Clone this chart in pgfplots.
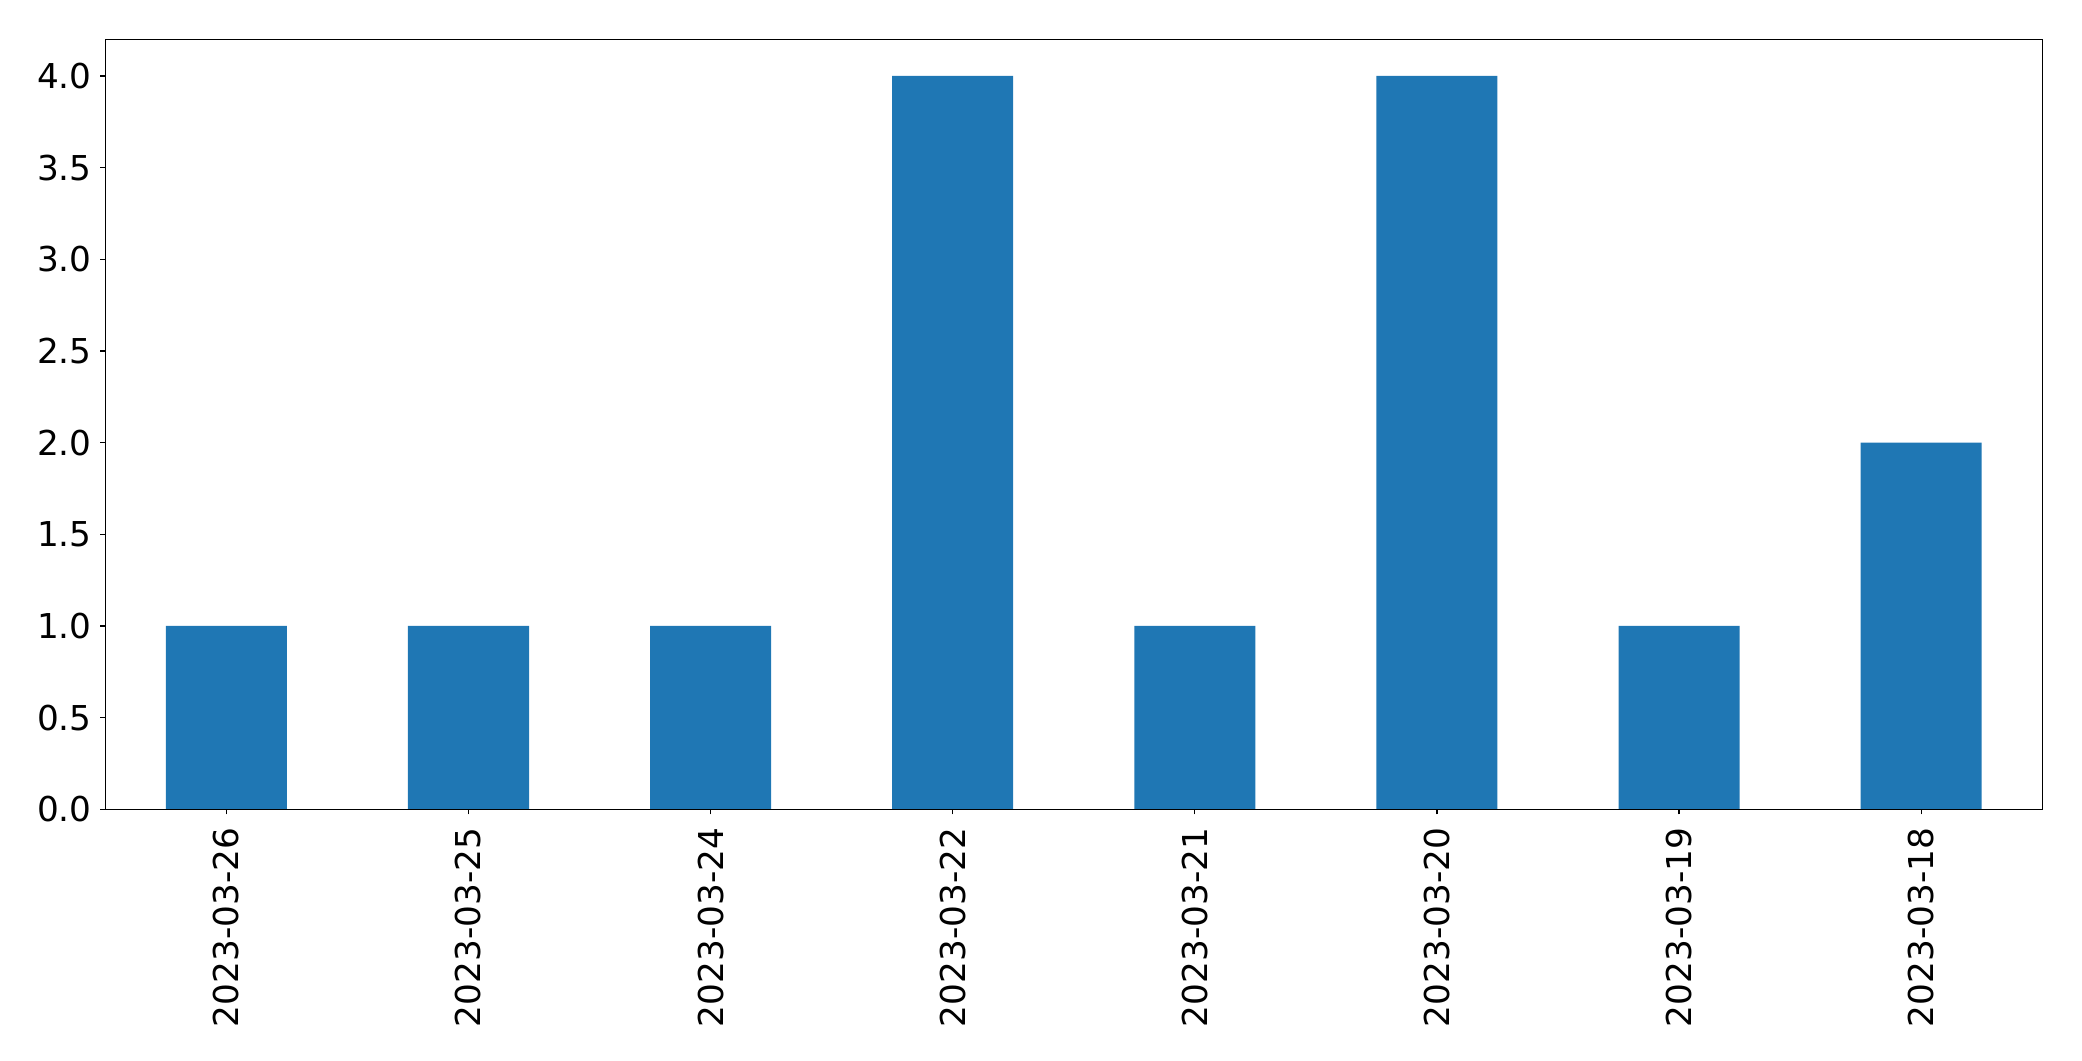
\documentclass[border=0pt]{standalone}
\usepackage{fontspec}
\setmainfont{DejaVu Sans}
\usepackage{pgfplots}
\pgfplotsset{compat=1.18}
\definecolor{mplblue}{HTML}{1F77B4}
\begin{document}
\fontsize{9.75}{11.7}\selectfont
\begin{tikzpicture}
\begin{axis}[
  scale only axis, width=19.37cm, height=7.70cm,
  xmin=-0.5, xmax=7.5, ymin=0, ymax=4.2,
  xtick={0,1,2,3,4,5,6,7},
  xticklabels={2023-03-26,2023-03-25,2023-03-24,2023-03-22,2023-03-21,2023-03-20,2023-03-19,2023-03-18},
  ytick={0,0.5,1,1.5,2,2.5,3,3.5,4},
  /pgf/number format/fixed,
  /pgf/number format/fixed zerofill,
  /pgf/number format/precision=1,
  /pgf/number format/assume math mode=true,
  xtick pos=bottom, ytick pos=left,
  xticklabel style={rotate=90, anchor=east, inner sep=0pt},
  yticklabel style={inner sep=0pt},
  xticklabel shift=0.13cm,
  yticklabel shift=0.08cm,
  tick align=outside, major tick length=0.05cm,
  tick style={black, line width=0.35pt},
  axis line style={black, line width=0.35pt},
  axis on top,
  ybar, bar width=0.5,
]
\addplot[fill=mplblue, draw=none] coordinates {(0,1) (1,1) (2,1) (3,4) (4,1) (5,4) (6,1) (7,2)};
\coordinate (sw) at (rel axis cs:0,0);
\coordinate (ne) at (rel axis cs:1,1);
\end{axis}
\pgfresetboundingbox
\path[use as bounding box] ([shift={(-1.053cm,-2.517cm)}]sw) rectangle ([shift={(0.398cm,0.393cm)}]ne);
\end{tikzpicture}
\end{document}
